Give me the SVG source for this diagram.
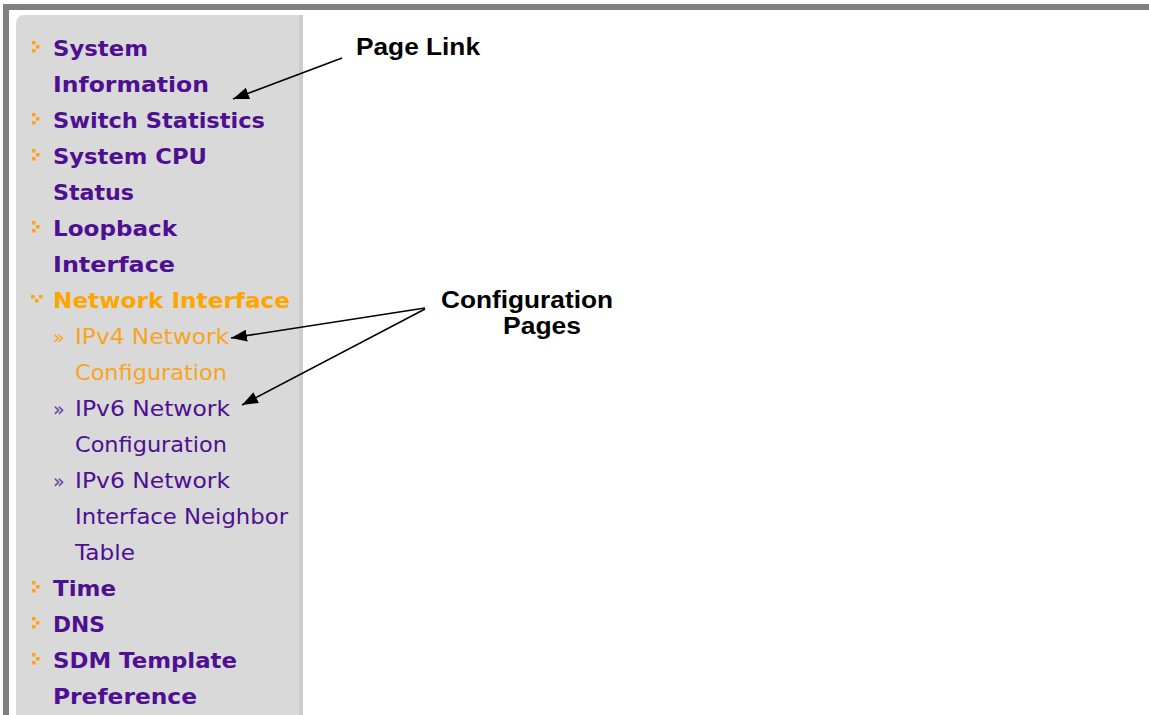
<svg xmlns="http://www.w3.org/2000/svg" width="1149" height="715" viewBox="0 0 1149 715">
  <defs>
    <marker id="arrowhead" markerWidth="16" markerHeight="12" refX="16" refY="6" orient="auto" markerUnits="userSpaceOnUse">
      <path d="M0,0 L16,6 L0,12 Z" fill="#000"/>
    </marker>
    <g id="chev">
      <rect x="0" y="0" width="3.5" height="3.5"/>
      <rect x="4" y="4" width="3.5" height="3.5"/>
      <rect x="0" y="8" width="3.5" height="3.5"/>
    </g>
    <g id="chevDown">
      <rect x="0" y="0" width="3.5" height="3.5"/>
      <rect x="4" y="4" width="3.5" height="3.5"/>
      <rect x="8" y="0" width="3.5" height="3.5"/>
    </g>
  </defs>
  <style>
    text { lengthAdjust: spacingAndGlyphs; }
    .menu { font-family: "DejaVu Sans", Verdana, sans-serif; font-size: 21px; font-weight: bold; fill: #4e0f92; }
    .menu.active { fill: #ffa500; }
    .sub { font-family: "DejaVu Sans", Verdana, sans-serif; font-size: 21px; fill: #4e0f92; }
    .sub.active { fill: #f8a41f; }
    .raq { font-family: "DejaVu Sans", sans-serif; font-size: 19px; }
    .bullet { fill: #ffa21a; }
    .label { font-family: "Liberation Sans", Arial, sans-serif; font-size: 23px; font-weight: bold; fill: #000; }
    .conn { stroke: #000; stroke-width: 1.6; fill: none; marker-end: url(#arrowhead); }
  </style>

  <rect width="1149" height="715" fill="#fff"/>

  <!-- window frame -->
  <g id="frame">
    <rect x="3" y="4" width="1146" height="6" fill="#808080"/>
    <rect x="3" y="4" width="6" height="711" fill="#808080"/>
  </g>

  <!-- navigation panel -->
  <g id="panel">
    <path d="M16,715 V24 Q16,15 25,15 H303 V715 Z" fill="#d9d9d9"/>
    <rect x="299" y="15" width="4" height="700" fill="#cdcdcd"/>
  </g>

  <g id="menu-system-information">
    <use href="#chev" x="32" y="41" class="bullet"/>
    <text class="menu" x="53" y="56" textLength="95" lengthAdjust="spacingAndGlyphs">System</text>
    <text class="menu" x="53" y="92" textLength="156" lengthAdjust="spacingAndGlyphs">Information</text>
  </g>
  <g id="menu-switch-statistics">
    <use href="#chev" x="32" y="113" class="bullet"/>
    <text class="menu" x="53" y="128" textLength="212" lengthAdjust="spacingAndGlyphs">Switch Statistics</text>
  </g>
  <g id="menu-system-cpu">
    <use href="#chev" x="32" y="149" class="bullet"/>
    <text class="menu" x="53" y="164" textLength="154" lengthAdjust="spacingAndGlyphs">System CPU</text>
    <text class="menu" x="53" y="200" textLength="81" lengthAdjust="spacingAndGlyphs">Status</text>
  </g>
  <g id="menu-loopback">
    <use href="#chev" x="32" y="221" class="bullet"/>
    <text class="menu" x="53" y="236" textLength="124" lengthAdjust="spacingAndGlyphs">Loopback</text>
    <text class="menu" x="53" y="272" textLength="122" lengthAdjust="spacingAndGlyphs">Interface</text>
  </g>
  <g id="menu-network-interface">
    <use href="#chevDown" x="31" y="295" class="bullet"/>
    <text class="menu active" x="53" y="308" textLength="237" lengthAdjust="spacingAndGlyphs">Network Interface</text>
  </g>
  <g id="sub-ipv4">
    <text class="raq" x="53" y="344" fill="#f8a41f">»</text>
    <text class="sub active" x="75" y="344" textLength="154" lengthAdjust="spacingAndGlyphs">IPv4 Network</text>
    <text class="sub active" x="75" y="380" textLength="152" lengthAdjust="spacingAndGlyphs">Configuration</text>
  </g>
  <g id="sub-ipv6">
    <text class="raq" x="53" y="416" fill="#6a3fa0">»</text>
    <text class="sub" x="75" y="416" textLength="155" lengthAdjust="spacingAndGlyphs">IPv6 Network</text>
    <text class="sub" x="75" y="452" textLength="152" lengthAdjust="spacingAndGlyphs">Configuration</text>
  </g>
  <g id="sub-ipv6-neighbor">
    <text class="raq" x="53" y="488" fill="#6a3fa0">»</text>
    <text class="sub" x="75" y="488" textLength="155" lengthAdjust="spacingAndGlyphs">IPv6 Network</text>
    <text class="sub" x="75" y="524" textLength="213" lengthAdjust="spacingAndGlyphs">Interface Neighbor</text>
    <text class="sub" x="75" y="560" textLength="60" lengthAdjust="spacingAndGlyphs">Table</text>
  </g>
  <g id="menu-time">
    <use href="#chev" x="32" y="581" class="bullet"/>
    <text class="menu" x="53" y="596" textLength="63" lengthAdjust="spacingAndGlyphs">Time</text>
  </g>
  <g id="menu-dns">
    <use href="#chev" x="32" y="617" class="bullet"/>
    <text class="menu" x="53" y="632" textLength="52" lengthAdjust="spacingAndGlyphs">DNS</text>
  </g>
  <g id="menu-sdm">
    <use href="#chev" x="32" y="653" class="bullet"/>
    <text class="menu" x="53" y="668" textLength="184" lengthAdjust="spacingAndGlyphs">SDM Template</text>
    <text class="menu" x="53" y="704" textLength="144" lengthAdjust="spacingAndGlyphs">Preference</text>
  </g>

  <!-- callout labels -->
  <g id="label-page-link">
    <text class="label" x="356" y="55" textLength="124" lengthAdjust="spacingAndGlyphs">Page Link</text>
  </g>
  <g id="label-config-pages">
    <text class="label" x="441" y="308" textLength="172" lengthAdjust="spacingAndGlyphs">Configuration</text>
    <text class="label" x="503" y="334" textLength="78" lengthAdjust="spacingAndGlyphs">Pages</text>
  </g>

  <!-- callout arrows -->
  <g id="connectors">
    <line class="conn" x1="342" y1="58" x2="233" y2="99"/>
    <line class="conn" x1="425" y1="308" x2="231" y2="338"/>
    <line class="conn" x1="425" y1="309" x2="242" y2="405"/>
  </g>
</svg>
